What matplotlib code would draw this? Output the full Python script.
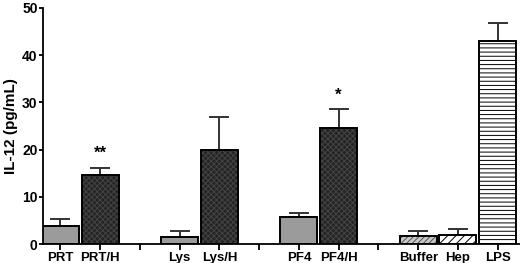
import numpy as np
import matplotlib.pyplot as plt

plt.rcParams['font.family'] = ['Liberation Sans', 'DejaVu Sans']
plt.rcParams['font.weight'] = 'bold'
plt.rcParams['hatch.linewidth'] = 0.7

labels = ["PRT", "PRT/H", "Lys", "Lys/H", "PF4", "PF4/H", "Buffer", "Hep", "LPS"]
positions = [0, 1, 3, 4, 6, 7, 9, 10, 11]
means = [3.9, 14.6, 1.4, 19.9, 5.8, 24.6, 1.8, 2.0, 43.0]
sems = [1.5, 1.6, 1.35, 6.9, 0.8, 4.0, 1.0, 1.2, 3.9]
stars = {1: "**", 5: "*"}

# fill colour, hatch, hatch colour
styles = [
    ("#9b9b9b", "", None),
    ("#242424", "xxxxxx", "#444444"),
    ("#9b9b9b", "", None),
    ("#242424", "xxxxxx", "#444444"),
    ("#9b9b9b", "", None),
    ("#242424", "xxxxxx", "#444444"),
    ("#c8c8c8", "//////", "#555555"),
    ("white", "////", "black"),
    ("white", "----", "black"),
]

fig, ax = plt.subplots(figsize=(5.2, 2.63), dpi=100)
width = 0.93

for x, m, (fc, hatch, hc) in zip(positions, means, styles):
    ax.bar(x, m, width, color=fc, linewidth=0, zorder=2)
    if hatch:
        ax.bar(x, m, width, color="none", edgecolor=hc, hatch=hatch, linewidth=0, zorder=3)
    ax.bar(x, m, width, fill=False, edgecolor="black", linewidth=1.4, zorder=4)

ax.errorbar(positions, means, yerr=[np.zeros(len(sems)), sems], fmt="none",
            ecolor="#333333", elinewidth=1.4, capsize=7, capthick=1.4, zorder=1)

for i, s in stars.items():
    ax.text(positions[i], means[i] + sems[i] + 3.0, s, ha="center", va="center",
            fontsize=12, fontweight="bold")

ax.set_xlim(-0.43, 11.56)
ax.set_ylim(0, 50)
ax.set_yticks([0, 10, 20, 30, 40, 50])
ax.set_xticks(range(12))
tick_labels = [""] * 12
for p, l in zip(positions, labels):
    tick_labels[p] = l
ax.set_xticklabels(tick_labels, fontsize=9.5, fontweight="bold")
ax.tick_params(axis="y", labelsize=10, width=1.3, length=3, pad=1)
ax.tick_params(axis="x", width=1.3, length=4, pad=2)
for lbl in ax.get_yticklabels():
    lbl.set_fontweight("bold")
ax.set_ylabel("IL-12 (pg/mL)", fontsize=11, fontweight="bold", labelpad=3)

ax.spines["top"].set_visible(False)
ax.spines["right"].set_visible(False)
ax.spines["left"].set_linewidth(1.3)
ax.spines["bottom"].set_linewidth(1.3)

fig.subplots_adjust(left=0.083, right=1.0, top=0.97, bottom=0.072)
fig.savefig("out.png", dpi=100)
